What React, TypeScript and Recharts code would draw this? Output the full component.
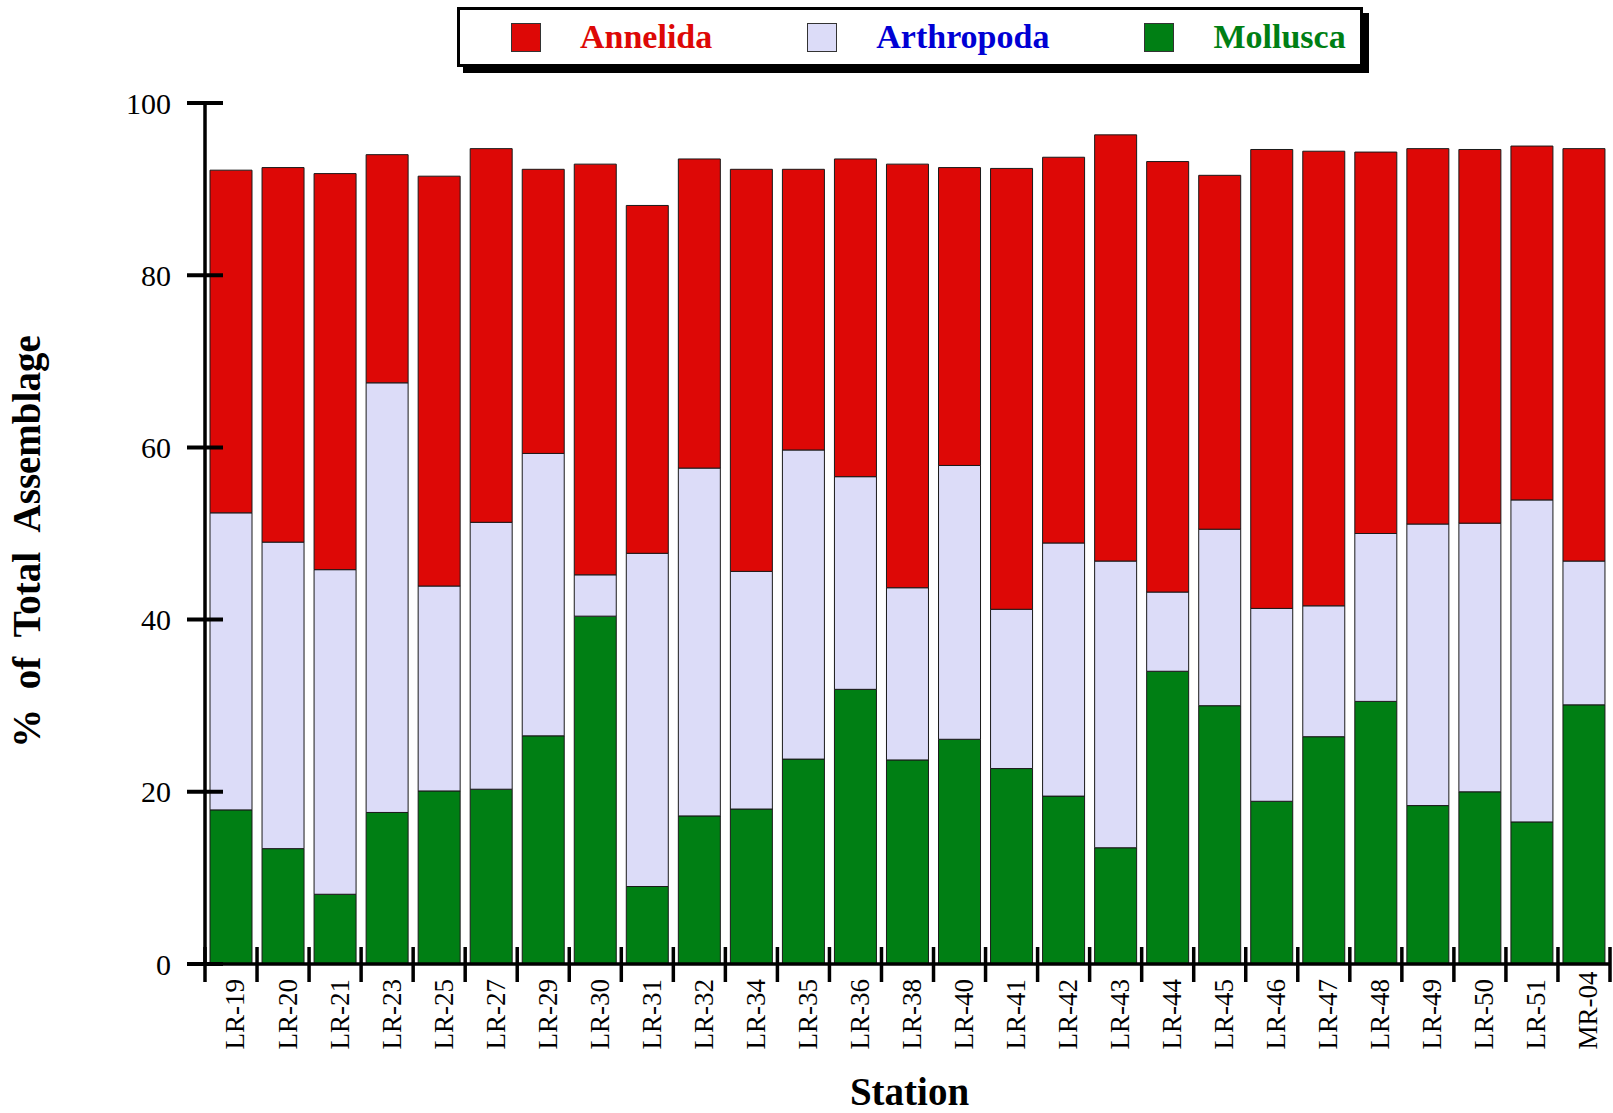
import React from 'react';
import { BarChart, Bar, XAxis, YAxis, Legend, Label } from 'recharts';

const stations = ['LR-19', 'LR-20', 'LR-21', 'LR-23', 'LR-25', 'LR-27', 'LR-29', 'LR-30', 'LR-31', 'LR-32', 'LR-34', 'LR-35', 'LR-36', 'LR-38', 'LR-40', 'LR-41', 'LR-42', 'LR-43', 'LR-44', 'LR-45', 'LR-46', 'LR-47', 'LR-48', 'LR-49', 'LR-50', 'LR-51', 'MR-04'];
const mollusca = [17.9, 13.4, 8.1, 17.6, 20.1, 20.3, 26.5, 40.4, 9.0, 17.2, 18.0, 23.8, 31.9, 23.7, 26.1, 22.7, 19.5, 13.5, 34.0, 30.0, 18.9, 26.4, 30.5, 18.4, 20.0, 16.5, 30.1];
const arthropoda = [34.5, 35.6, 37.7, 49.9, 23.8, 31.0, 32.8, 4.8, 38.7, 40.4, 27.6, 35.9, 24.7, 20.0, 31.8, 18.5, 29.4, 33.3, 9.2, 20.5, 22.4, 15.2, 19.5, 32.7, 31.2, 37.4, 16.7];
const annelida = [39.8, 43.5, 46.0, 26.5, 47.6, 43.4, 33.0, 47.7, 40.4, 35.9, 46.7, 32.6, 36.9, 49.2, 34.6, 51.2, 44.8, 49.5, 50.0, 41.1, 53.3, 52.8, 44.3, 43.6, 43.4, 41.1, 47.9];
const yTicks = [0, 20, 40, 60, 80, 100];
const xTitle = 'Station';
const yTitle = '%\u00a0\u00a0of\u00a0\u00a0Total\u00a0\u00a0Assemblage';

const legendItems = [
  { key: 'Annelida', fill: '#DD0806', text: '#DD0806' },
  { key: 'Arthropoda', fill: '#DCDCF8', text: '#0000D4' },
  { key: 'Mollusca', fill: '#007F14', text: '#007F14' },
];

const data = stations.map((s, i) => ({
  station: s,
  Mollusca: mollusca[i],
  Arthropoda: arthropoda[i],
  Annelida: annelida[i],
}));

const FONT = "'Liberation Serif', 'Times New Roman', Times, serif";

const YTick = (props: any) => {
  const { x, y, payload } = props;
  return (
    <g>
      <line x1={x - 18} x2={x + 18} y1={y} y2={y} stroke="#000" strokeWidth={4} />
      <text x={x - 34} y={y} dy="0.35em" textAnchor="end" fontFamily={FONT} fontSize={30} fill="#000">
        {payload.value}
      </text>
    </g>
  );
};

const XTick = (props: any) => {
  const { x, y, payload, index } = props;
  const half = payload && payload.offset ? payload.offset : 1405 / stations.length / 2;
  const isLast = index === stations.length - 1;
  return (
    <g>
      <line x1={x - half} x2={x - half} y1={y - 17} y2={y + 18} stroke="#000" strokeWidth={3.5} />
      {isLast && <line x1={x + half} x2={x + half} y1={y - 17} y2={y + 18} stroke="#000" strokeWidth={3.5} />}
      <text
        transform={`translate(${x + 4},${y + 85.5}) rotate(-90)`}
        textAnchor="start"
        dy="0.35em"
        fontFamily={FONT}
        fontSize={27}
        fill="#000"
      >
        {payload.value}
      </text>
    </g>
  );
};

const LegendBox = () => (
  <div
    style={{
      boxSizing: 'border-box',
      width: 906,
      height: 60,
      border: '3px solid #000',
      boxShadow: '6px 6px 0 #000',
      background: '#fff',
      display: 'flex',
      alignItems: 'center',
      paddingLeft: 51,
    }}
  >
    {legendItems.map((s, i) => (
      <div key={s.key} style={{ display: 'flex', alignItems: 'center', marginLeft: i === 0 ? 0 : 95 }}>
        <div style={{ width: 30, height: 29, background: s.fill, border: '1.5px solid #333', boxSizing: 'border-box' }} />
        <span style={{ marginLeft: 39, color: s.text, fontFamily: FONT, fontWeight: 'bold', fontSize: 34, lineHeight: '34px' }}>
          {s.key}
        </span>
      </div>
    ))}
  </div>
);

export default function App() {
  return (
    <div style={{ position: 'absolute', top: 0, left: 0, width: 1613, height: 1113, background: '#fff' }}>
      <BarChart width={1613} height={1113} data={data} margin={{ top: 103, right: 3, bottom: 0, left: 0 }}>
        <XAxis
          dataKey="station"
          type="category"
          interval={0}
          height={149}
          tickSize={0}
          tickMargin={0}
          tickLine={false}
          axisLine={{ stroke: '#000', strokeWidth: 3.5 }}
          tick={<XTick />}
        >
          <Label
            content={(p: any) => {
              const vb = p.viewBox || { x: 205, y: 964, width: 1405, height: 149 };
              return (
                <text
                  x={vb.x + vb.width / 2 + 2}
                  y={vb.y + 141}
                  textAnchor="middle"
                  fontFamily={FONT}
                  fontWeight="bold"
                  fontSize={39}
                  fill="#000"
                >
                  {xTitle}
                </text>
              );
            }}
          />
        </XAxis>
        <YAxis
          type="number"
          domain={[0, 100]}
          ticks={yTicks}
          interval={0}
          width={205}
          tickSize={0}
          tickMargin={0}
          tickLine={false}
          axisLine={{ stroke: '#000', strokeWidth: 3.5 }}
          tick={<YTick />}
        >
          <Label
            content={(p: any) => {
              const vb = p.viewBox || { x: 0, y: 103, width: 205, height: 861 };
              const cx = vb.x + 40;
              const cy = vb.y + vb.height / 2 + 8;
              return (
                <text
                  transform={`translate(${cx},${cy}) rotate(-90)`}
                  textAnchor="middle"
                  fontFamily={FONT}
                  fontWeight="bold"
                  fontSize={39}
                  fill="#000"
                >
                  {yTitle}
                </text>
              );
            }}
          />
        </YAxis>
        <Legend
          layout="horizontal"
          verticalAlign="middle"
          align="center"
          wrapperStyle={{ position: 'absolute', top: 7, left: 457, width: 906, height: 60 }}
          content={() => <LegendBox />}
        />
        <Bar dataKey="Mollusca" stackId="a" fill="#007F14" stroke="#1a1a1a" strokeWidth={1} barSize={42} isAnimationActive={false} />
        <Bar dataKey="Arthropoda" stackId="a" fill="#DCDCF8" stroke="#1a1a1a" strokeWidth={1} barSize={42} isAnimationActive={false} />
        <Bar dataKey="Annelida" stackId="a" fill="#DD0806" stroke="#1a1a1a" strokeWidth={1} barSize={42} isAnimationActive={false} />
      </BarChart>
    </div>
  );
}
